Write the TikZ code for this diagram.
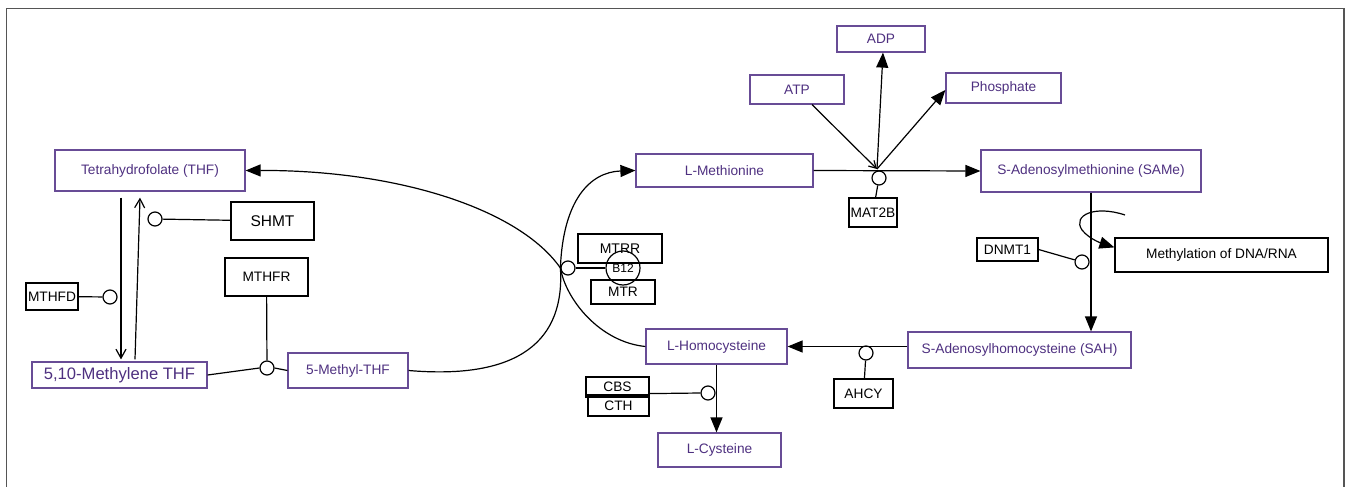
\documentclass[tikz,border=0pt]{standalone}
\usepackage{fontspec}
\setmainfont{Liberation Sans}
\usetikzlibrary{arrows.meta,calc}
\definecolor{metline}{RGB}{104,76,150}
\definecolor{mettext}{RGB}{78,48,128}
\definecolor{framegray}{RGB}{85,85,85}
\tikzset{
  met/.style={draw=metline, text=mettext, inner sep=0pt, font=\fontsize{13.7}{16}\selectfont},
  enz/.style={draw=black, text=black, inner sep=0pt, font=\fontsize{13.7}{16}\selectfont},
  boxwh/.style 2 args={minimum width=#1pt, minimum height=#2pt},
  knot/.style={circle, draw, inner sep=0pt, minimum size=14pt},
  tofill/.style={-{Triangle[length=15pt,width=12pt]}},
  toopen/.style={-{Straight Barb[length=9pt,width=10pt]}},
  toopensmall/.style={-{Straight Barb[length=7pt,width=8pt]}},
}

\begin{document}
\begin{tikzpicture}[x=1pt,y=-1pt,line width=1.2pt]
\useasboundingbox (0,0) rectangle (1346,487);
% frame
\draw[framegray, line width=1.5pt] (6.5,487) -- (6.5,8.5) -- (1344,8.5) -- (1344,487);

% folate cycle
\node[met, boxwh={190}{41}] (thf) at (150,170.5) {Tetrahydrofolate (THF)};
\node[met, boxwh={175}{26}, font=\fontsize{16.6}{19}\selectfont] (mthf) at (119.5,375) {5,10-Methylene THF};
\node[met, boxwh={120}{35}] (mthyl) at (348,370.5) {5-Methyl-THF};
\node[enz, boxwh={83}{38}, font=\fontsize{15.5}{18}\selectfont] (shmt) at (272.5,221) {SHMT};
\node[enz, boxwh={83}{38}] (mthfr) at (266.5,277) {MTHFR};
\node[enz, boxwh={52}{27}] (mthfd) at (52,296.5) {MTHFD};

% methionine cycle
\node[met, boxwh={177}{33}] (met) at (724.5,170.5) {L-Methionine};
\node[met, boxwh={94}{29}] (atp) at (797,89.5) {ATP};
\node[met, boxwh={88}{26}] (adp) at (881,39) {ADP};
\node[met, boxwh={115}{30}] (pho) at (1003.5,88) {Phosphate};
\node[enz, boxwh={48}{29}] (mat) at (873,212.5) {MAT2B};
\node[met, boxwh={220}{42}] (same) at (1091,171) {S-Adenosylmethionine (SAMe)};
\node[enz, boxwh={61}{23}] (dnmt) at (1007.5,249.5) {DNMT1};
\node[enz, boxwh={213}{34}] (methy) at (1221.5,255) {Methylation of DNA/RNA};
\node[met, boxwh={223}{36}] (sah) at (1019.5,350) {S-Adenosylhomocysteine (SAH)};
\node[enz, boxwh={59}{29}] (ahcy) at (863.5,393.5) {AHCY};
\node[met, boxwh={141}{35}] (hcy) at (716.5,346.5) {L-Homocysteine};
\node[met, boxwh={123}{34}] (cys) at (719.5,450) {L-Cysteine};
\node[enz, boxwh={61}{21}] (cth) at (618.5,405.5) {CTH};
\node[enz, boxwh={63}{20}] (cbs) at (617.5,387) {CBS};
\node[enz, boxwh={84}{29}, font=\fontsize{14}{16}\selectfont] (mtrr) at (620,248.5) {MTRR};
\node[enz, boxwh={64}{24}] (mtr) at (623,292) {MTR};
\node[circle, draw, inner sep=0pt, minimum size=34pt, font=\fontsize{12}{14}\selectfont] (b12) at (623,268) {B12};

% enzyme knots
\foreach \k/\x/\y in {kshmt/155/219, kmthfd/110/297, kmthfr/267/368, kms/568/268,
  kmat/879/178, kdnmt/1082/262, kahcy/866/353, kcbs/708/393}
  \node[knot] (\k) at (\x,\y) {};
\coordinate (jmat) at (877,169);
\coordinate (curl) at (1125,215);

% folate connectors
\draw[toopen] ([xshift=-29pt,yshift=-6pt]thf.south) -- ([xshift=1.5pt,yshift=2pt]mthf.north);
\draw[toopen] ([xshift=15.5pt,yshift=2pt]mthf.north) -- ([xshift=-10pt,yshift=-6pt]thf.south);
\draw (mthfd) -- (kmthfd);
\draw (shmt) -- (kshmt);
\draw (mthfr) -- (kmthfr);
\draw (mthf.east) -- (kmthfr.west);
\draw (kmthfr.east) -- (mthyl.west);
\draw[tofill] (mthyl.east) .. controls (520,380) and (565,340) .. (kms.west)
  .. controls (563,200) and (590,172) .. (met.west);
\draw[tofill] (hcy.west) .. controls (600,342) and (566,300) .. (kms.west)
  .. controls (520,210) and (400,170) .. (thf.east);
\draw (kms) -- (b12);

% methionine connectors
\draw[tofill] (met.east) -- (same.west);
\draw[toopensmall] ([xshift=15pt]atp.south) -- (jmat);
\draw[tofill] (jmat) -- ([xshift=2pt]adp.south);
\draw[tofill] (jmat) -- ([yshift=-2pt]pho.west);
\draw (kmat) -- (mat);
\draw[tofill] (same.south) -- (same.south |- sah.north);
\draw (dnmt.east) -- (kdnmt);
\draw[tofill] (curl) .. controls (1095,205) and (1072,215) .. (1082,230)
  .. controls (1090,240) and (1104,244) .. ([yshift=-10pt]methy.north west);
\draw[tofill] (sah.west |- hcy.east) -- (hcy.east);
\draw (kahcy) -- (ahcy);
\draw[tofill] (hcy.south) -- (hcy.south |- cys.north);
\draw ([yshift=4pt]cbs.south east) -- (kcbs.west);
\end{tikzpicture}
\end{document}
